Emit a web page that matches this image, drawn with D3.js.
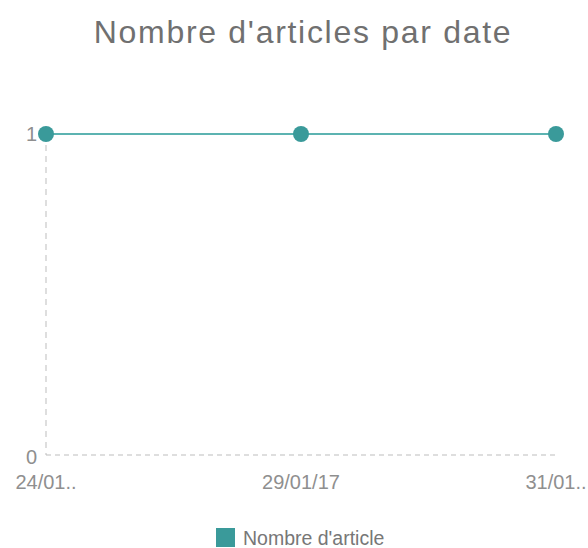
<!DOCTYPE html>
<html><head><meta charset="utf-8">
<script src="https://cdn.jsdelivr.net/npm/d3@7/dist/d3.min.js"></script>
<style>body{margin:0;background:#fff;}svg{display:block;font-family:"Liberation Sans",Arial,sans-serif;}</style>
</head><body>
<script>
const title = "Nombre d'articles par date";
const seriesName = "Nombre d'article";
const categories = ["24/01..", "29/01/17", "31/01.."];
const values = [1, 1, 1];
const yTicks = [0, 1];

const W = 588, H = 548;
const svg = d3.select("body").append("svg").attr("width", W).attr("height", H);
const x = d3.scalePoint().domain(categories).range([46, 556]);
const y = d3.scaleLinear().domain([0, 1]).range([455, 134]);

svg.append("text").attr("x", 303).attr("y", 43).attr("text-anchor", "middle")
  .attr("font-size", 32).attr("letter-spacing", 1.7).attr("fill", "#707070").text(title);

// axes dashed
svg.append("line").attr("x1", x(categories[0])).attr("x2", x(categories[0]))
  .attr("y1", y(1)).attr("y2", y(0)).attr("stroke", "#bdbdbd").attr("stroke-dasharray", "6,5");
svg.append("line").attr("x1", x(categories[0])).attr("x2", x(categories[2]) + 2)
  .attr("y1", y(0)).attr("y2", y(0)).attr("stroke", "#bdbdbd").attr("stroke-dasharray", "5,4");

svg.selectAll(".yt").data(yTicks).enter().append("text")
  .attr("x", 37).attr("y", d => y(d) + (d === 0 ? 9 : 7)).attr("text-anchor", "end")
  .attr("font-size", 20).attr("fill", "#8f8f8f").text(d => d);

svg.selectAll(".xt").data(categories).enter().append("text")
  .attr("x", d => x(d)).attr("y", 489).attr("text-anchor", "middle")
  .attr("font-size", 20).attr("fill", "#8f8f8f").text(d => d);

const line = d3.line().x((d, i) => x(categories[i])).y(d => y(d));
svg.append("path").datum(values).attr("d", line).attr("fill", "none")
  .attr("stroke", "#5cb3b1").attr("stroke-width", 2);
svg.selectAll(".pt").data(values).enter().append("circle")
  .attr("cx", (d, i) => x(categories[i])).attr("cy", d => y(d)).attr("r", 8)
  .attr("fill", "#3a9a9a");

// legend
svg.append("rect").attr("x", 216).attr("y", 528).attr("width", 19).attr("height", 19).attr("fill", "#3a9a9a");
svg.append("text").attr("x", 243).attr("y", 545).attr("font-size", 19.5).attr("fill", "#777").text(seriesName);
</script>
</body></html>
